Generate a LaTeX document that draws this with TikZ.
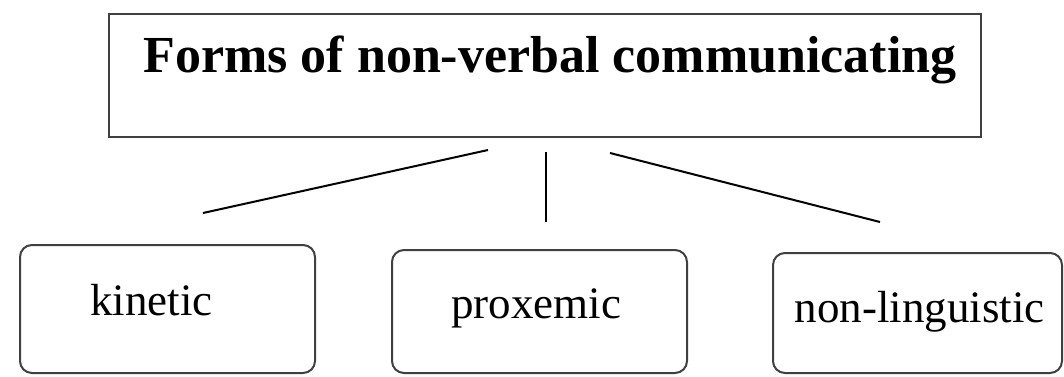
\documentclass[tikz,border=0pt]{standalone}
\usepackage{fontspec}
\setmainfont{Liberation Serif}
\begin{document}
\begin{tikzpicture}[x=1pt,y=-1pt,
  boxstyle/.style={draw=black!75,line width=2pt,inner sep=0pt,rectangle},
  leafbox/.style={boxstyle,rounded corners=12pt},
  lbl/.style={inner sep=0pt,anchor=base,font=\fontsize{45}{50}\selectfont},
  conn/.style={draw=black,line width=2pt}]
\useasboundingbox (0,0) rectangle (1064,376);
\node[boxstyle,minimum width=872pt,minimum height=123pt] (top) at (545,75.5) {};
\node[inner sep=0pt,anchor=base,font=\fontsize{52}{56}\selectfont\bfseries] (title) at (550,72) {Forms of non-verbal communicating};
\node[leafbox,minimum width=295pt,minimum height=128pt] (b1) at (167.5,309) {};
\node[leafbox,minimum width=295pt,minimum height=123pt] (b2) at (539.5,311.5) {};
\node[leafbox,minimum width=289pt,minimum height=120pt] (b3) at (917.5,313) {};
\node[lbl] (t1) at (151.5,315) {kinetic};
\node[lbl] (t2) at (536,318) {proxemic};
\node[lbl] (t3) at (919.5,322) {non-linguistic};
\coordinate (l1a) at (488,150);
\coordinate (l1b) at (203,213);
\coordinate (l2a) at (546,152);
\coordinate (l2b) at (546,222);
\coordinate (l3a) at (610,153);
\coordinate (l3b) at (880,222);
\draw[conn] (l1a) -- (l1b);
\draw[conn] (l2a) -- (l2b);
\draw[conn] (l3a) -- (l3b);
\end{tikzpicture}
\end{document}
